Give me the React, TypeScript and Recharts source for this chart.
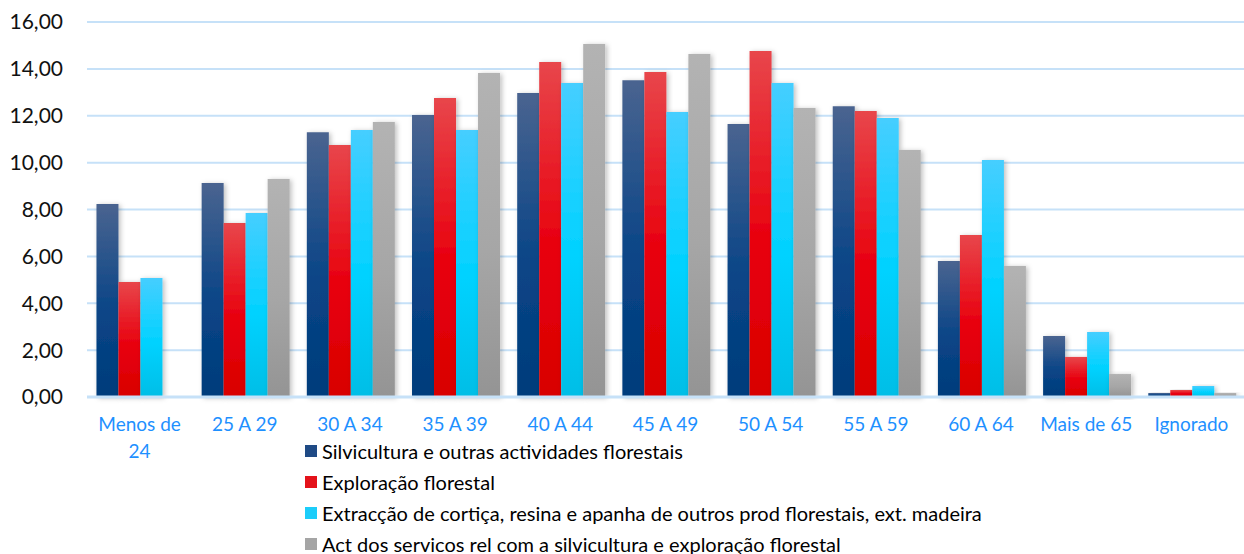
import { Bar, BarChart, CartesianGrid, XAxis, YAxis } from 'recharts';

const ageGroups = [
  'Menos de 24',
  '25 A 29',
  '30 A 34',
  '35 A 39',
  '40 A 44',
  '45 A 49',
  '50 A 54',
  '55 A 59',
  '60 A 64',
  'Mais de 65',
  'Ignorado'
];

const silvicultura = [8.23, 9.13, 11.3, 12.03, 12.97, 13.52, 11.65, 12.41, 5.8, 2.6, 0.17];
const exploracao = [4.91, 7.42, 10.75, 12.76, 14.29, 13.87, 14.76, 12.2, 6.91, 1.71, 0.3];
const extraccao = [5.08, 7.85, 11.39, 11.39, 13.4, 12.16, 13.4, 11.9, 10.11, 2.77, 0.47];
const servicos = [0, 9.3, 11.73, 13.82, 15.06, 14.63, 12.33, 10.54, 5.59, 0.98, 0.17];

const yTicks = [0, 2, 4, 6, 8, 10, 12, 14, 16];

const series = [
  {
    key: 'silvicultura',
    name: 'Silvicultura e outras actividades florestais',
    stops: ['#4a6490', '#0a4587', '#003c7b'],
    swatch: '#1f4a85'
  },
  {
    key: 'exploracao',
    name: 'Exploração florestal',
    stops: ['#e8464b', '#e8000e', '#d80000'],
    swatch: '#e4121a'
  },
  {
    key: 'extraccao',
    name: 'Extracção de cortiça, resina e apanha de outros prod florestais, ext. madeira',
    stops: ['#46ceff', '#00d2ff', '#00bee6'],
    swatch: '#1ccdfa'
  },
  {
    key: 'servicos',
    name: 'Act dos servicos rel com a silvicultura e exploração florestal',
    stops: ['#b3b3b3', '#a6a6a6', '#949494'],
    swatch: '#a5a5a5'
  }
];

const data = ageGroups.map((group, i) => ({
  group,
  silvicultura: silvicultura[i],
  exploracao: exploracao[i],
  extraccao: extraccao[i],
  servicos: servicos[i]
}));

const font = 'Lato, "Open Sans", sans-serif';

// break long labels into lines of at most 10 characters
const wrapLabel = (label: string) => {
  const lines: string[] = [];
  let cur = '';
  label.split(' ').forEach((w) => {
    const next = cur ? `${cur} ${w}` : w;
    if (next.length > 10 && cur) {
      lines.push(cur);
      cur = w;
    } else {
      cur = next;
    }
  });
  if (cur) lines.push(cur);
  return lines;
};

const AgeTick = (props: any) => {
  const { x, y, payload } = props;
  const lines = wrapLabel(String(payload.value));
  return (
    <text x={x} y={y} textAnchor="middle" fill="#1e90ff" fontSize={19} fontFamily={font}>
      {lines.map((l, i) => (
        <tspan key={i} x={x} dy={i === 0 ? 18 : 27}>
          {l}
        </tspan>
      ))}
    </text>
  );
};

export default function App() {
  return (
    <div style={{ position: 'absolute', left: 0, top: 0, width: 1244, height: 554, background: '#fff', overflow: 'hidden' }}>
      <BarChart
        width={1244}
        height={554}
        data={data}
        margin={{ top: 22, right: 0, left: 0, bottom: 97 }}
        barGap={0}
        barCategoryGap="9%"
      >
        <defs>
          {series.map((s) => (
            <linearGradient key={s.key} id={`grad-${s.key}`} x1="0" y1="0" x2="0" y2="1">
              <stop offset="0%" stopColor={s.stops[0]} />
              <stop offset="55%" stopColor={s.stops[1]} />
              <stop offset="100%" stopColor={s.stops[2]} />
            </linearGradient>
          ))}
          <filter id="barShadow" x="-30%" y="-10%" width="160%" height="120%">
            <feDropShadow dx="2" dy="1" stdDeviation="2.5" floodColor="#000" floodOpacity="0.25" />
          </filter>
        </defs>
        <CartesianGrid vertical={false} stroke="#c6e1f8" strokeWidth={2} />
        <XAxis
          dataKey="group"
          tick={<AgeTick />}
          tickLine={false}
          axisLine={{ stroke: '#c6e1f8', strokeWidth: 3 }}
          interval={0}
          height={60}
          tickMargin={10}
        />
        <YAxis
          domain={[0, 16]}
          ticks={yTicks}
          width={87}
          tickLine={false}
          axisLine={false}
          tickSize={0}
          tickMargin={24}
          tick={{ fill: '#111', fontSize: 21, fontFamily: font }}
          tickFormatter={(v: number) => v.toFixed(2).replace('.', ',')}
        />
        {series.map((s) => (
          <Bar
            key={s.key}
            dataKey={s.key}
            name={s.name}
            fill={`url(#grad-${s.key})`}
            filter="url(#barShadow)"
            isAnimationActive={false}
          />
        ))}
      </BarChart>
      <div style={{ position: 'absolute', left: 305, top: 435, fontFamily: font, fontSize: 20, color: '#000', lineHeight: '20px' }}>
        {series.map((s) => (
          <div key={s.key} style={{ display: 'flex', alignItems: 'center', height: 31 }}>
            <span style={{ width: 12, height: 12, background: s.swatch, marginRight: 5, display: 'inline-block', flex: 'none' }} />
            <span style={{ whiteSpace: 'nowrap' }}>{s.name}</span>
          </div>
        ))}
      </div>
    </div>
  );
}
